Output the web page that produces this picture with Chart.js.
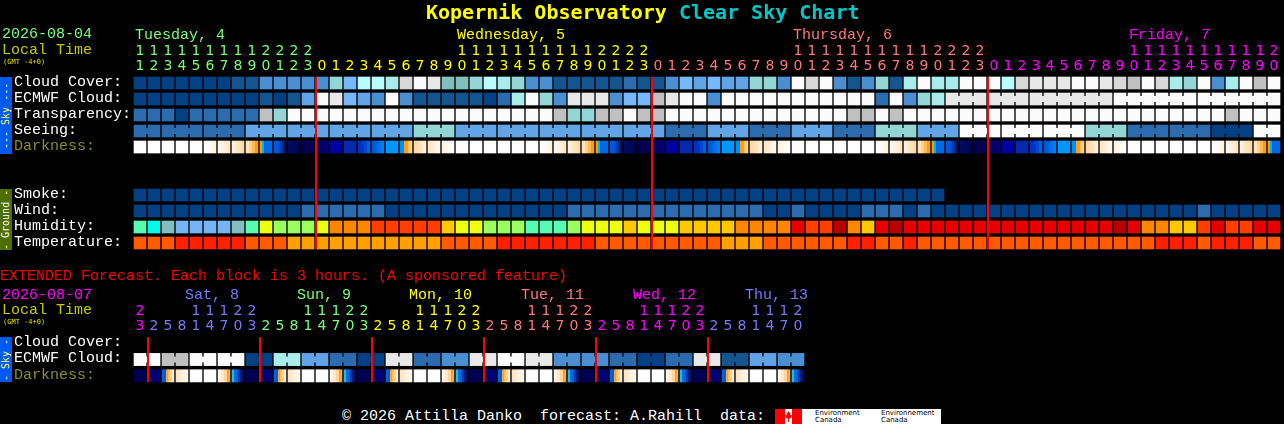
<!DOCTYPE html>
<html>
<head>
<meta charset="utf-8">
<title>Kopernik Observatory Clear Sky Chart</title>
<script src="https://cdn.jsdelivr.net/npm/chart.js@4"></script>
<style>
    html, body { margin: 0; padding: 0; background: #000; width: 1284px; height: 424px; overflow: hidden; }
    canvas { position: absolute; left: 0; }
    #main { top: 0; }
    #extended { top: 280px; }
    .t { position: absolute; white-space: pre; font: 15px/16px "Liberation Mono", monospace; }
    .gmt { font: 7px/8px "DejaVu Sans Mono", monospace; color: #e0e000; left: 3px; }
    .side { position: absolute; left: 0; width: 12px; writing-mode: vertical-rl; transform: rotate(180deg);
            font: 10px/12px "DejaVu Sans Mono", monospace; text-align: center; white-space: pre; }
    #logo { position: absolute; left: 775px; top: 409px; width: 166px; height: 15px; background: #fff; overflow: hidden; }
    #logo i { position: absolute; top: 0; width: 10px; height: 15px; background: #f00; }
    #logo span { position: absolute; font: 7px/7px "DejaVu Sans", sans-serif; color: #000; white-space: pre; }
</style>
</head>
<body>
<canvas id="main" width="1284" height="251"></canvas>
<canvas id="extended" width="808" height="104"></canvas>

<div class="t" style="left:426px;top:0;font:bold 20px/24px 'DejaVu Sans Mono',monospace;color:#ffff00">Kopernik Observatory <span style="color:#00c8c8">Clear Sky Chart</span></div>
<div class="t" style="left:2px;top:27px;color:#78ff78">2026-08-04</div>
<div class="t" style="left:2px;top:43px;color:#c8c800">Local Time</div>
<div class="t gmt" style="top:58px">(GMT -4+0)</div>
<div class="side" style="top:77px;height:77px;background:#005af0;color:#ffff40">--- Sky ---</div>
<div class="side" style="top:189px;height:61px;background:#4e6e00;color:#fff">- Ground -</div>
<div class="t" style="left:0;top:269px;color:#ff0000">EXTENDED Forecast. Each block is 3 hours. (A sponsored feature)</div>
<div class="t" style="left:2px;top:288px;color:#ff00ff">2026-08-07</div>
<div class="t" style="left:2px;top:303px;color:#c8c800">Local Time</div>
<div class="t gmt" style="top:318px">(GMT -4+0)</div>
<div class="side" style="top:337px;height:45px;background:#005af0;color:#ffff40">- Sky -</div>
<div class="t" style="left:342px;top:409px;color:#fff">© 2026 Attilla Danko  forecast: A.Rahill  data:</div>
<div id="logo">
    <i style="left:0"></i><i style="left:17px"></i>
    <svg style="position:absolute;left:10px;top:2px" width="7" height="11" viewBox="0 0 7 11"><path fill="#f00" d="M3.5 0L4.5 2L5.5 1.6L5 4L7 3.4L6.3 5.6L7 6L4 8L4 11L3 11L3 8L0 6L.7 5.6L0 3.4L2 4L1.5 1.6L2.5 2Z"/></svg>
    <span style="left:40px;top:1px">Environment
Canada</span>
    <span style="left:106px;top:1px">Environnement
Canada</span>
</div>

<script>
// hourly forecast columns, first column is Tuesday 11h
const hours = [11, 12, 13, 14, 15, 16, 17, 18, 19, 20, 21, 22, 23,
    0, 1, 2, 3, 4, 5, 6, 7, 8, 9, 10, 11, 12, 13, 14, 15, 16, 17, 18, 19, 20, 21, 22, 23,
    0, 1, 2, 3, 4, 5, 6, 7, 8, 9, 10, 11, 12, 13, 14, 15, 16, 17, 18, 19, 20, 21, 22, 23,
    0, 1, 2, 3, 4, 5, 6, 7, 8, 9, 10, 11, 12, 13, 14, 15, 16, 17, 18, 19, 20];
const dayNames = ['Tuesday, 4', 'Wednesday, 5', 'Thursday, 6', 'Friday, 7'];
const dayLabelCols = [0, 23, 47, 71];
const dayStartCols = [0, 13, 37, 61];
const dayColors = ['#78ff78', '#ffff00', '#ff7878', '#ff00ff'];

const rowNames = ['Cloud Cover:', 'ECMWF Cloud:', 'Transparency:', 'Seeing:', 'Darkness:', '', '',
    'Smoke:', 'Wind:', 'Humidity:', 'Temperature:'];

// sky values are classes 0 (best, dark blue) to 13 (worst, white)
const cloudCover = [0, 0, 0, 0, 0, 0, 0, 1, 1, 3, 3, 3, 3, 3, 7, 5, 9, 9, 8, 11, 13, 12,
    6, 6, 7, 9, 8, 7, 3, 3, 1, 1, 1, 1, 1, 2, 1, 1, 3, 5, 4, 5, 4, 4, 7, 7, 3, 13, 11, 13, 3, 1,
    3, 7, 1, 8, 13, 8, 8, 13, 13, 13, 9, 11, 12, 12, 12, 13, 13, 12, 11, 10, 13, 11, 8, 7, 13, 3, 8, 13, 10, 13];
const ecmwfCloud = [0, 0, 0, 0, 0, 0, 0, 0, 0, 1, 0, 1, 4, 13, 12, 5, 4, 3, 13, 3, 1, 1,
    1, 1, 1, 0, 2, 8, 13, 7, 3, 12, 12, 12, 3, 5, 5, 10, 12, 13, 13, 3, 13, 13, 13, 13, 13, 13, 13, 13, 13, 13,
    13, 2, 13, 3, 7, 8, 12, 12, 12, 12, 12, 12, 12, 12, 12, 12, 12, 12, 13, 13, 13, 13, 13, 13, 13, 13, 13, 13, 13, 13];
const transparency = [2, 2, 2, 0, 2, 2, 2, 2, 2, 10, 7, 13, 13, 13, 13, 13, 13, 13, 13, 13, 13, 13,
    13, 13, 13, 13, 13, 13, 13, 13, 10, 7, 7, 10, 10, 13, 10, 10, 13, 13, 13, 13, 13, 13, 13, 13, 13, 13, 13, 13, 13, 10,
    10, 13, 10, 13, 13, 13, 13, 13, 13, 13, 13, 13, 13, 13, 13, 13, 13, 13, 13, 13, 13, 13, 13, 13, 13, 13, 10, 13, 13, 13];
const seeing = [2, 2, 2, 2, 2, 2, 2, 2, 4, 4, 4, 4, 4, 4, 4, 4, 4, 4, 4, 4, 7, 7, 7,
    4, 4, 4, 4, 4, 4, 4, 4, 4, 4, 4, 4, 4, 4, 4, 2, 2, 2, 4, 4, 4, 2, 2, 2, 4, 4, 4, 2, 2, 2,
    7, 7, 7, 4, 4, 4, 13, 13, 13, 13, 13, 13, 13, 13, 13, 7, 7, 7, 2, 2, 2, 2, 2, 2, 0, 0, 0, 13, 13];
const darkness = ['W', 'W', 'W', 'W', 'W', 'a', 'b', 'c', 'd', 'e', 'f', 'n', 'k', 'm', 'p', 'q', 'r', 's', 't', 'u', 'C', 'B', 'A',
    'W', 'W', 'W', 'W', 'W', 'W', 'a', 'b', 'c', 'd', 'e', 'f', 'n', 'k', 'm', 'p', 'q', 'r', 's', 't', 'u', 'C', 'B', 'A',
    'W', 'W', 'W', 'W', 'W', 'W', 'a', 'b', 'c', 'd', 'e', 'f', 'n', 'k', 'm', 'p', 'q', 'r', 's', 't', 'u', 'C', 'B', 'A',
    'W', 'W', 'W', 'W', 'W', 'W', 'a', 'b', 'c', 'd', 'e'];
const smoke = [0, 0, 0, 0, 0, 0, 0, 0, 0, 0, 0, 0, 0, 0, 0, 0, 0, 0, 0, 0, 0, 0, 0, 0, 0, 0, 0, 0, 0,
    0, 0, 0, 0, 0, 0, 0, 0, 0, 0, 0, 0, 0, 0, 0, 0, 0, 0, 0, 0, 0, 0, 0, 0, 0, 0, 0, 0, 0];
const wind = [0, 0, 0, 0, 0, 0, 0, 0, 0, 0, 0, 0, 2, 2, 2, 2, 2, 2, 0, 0, 0, 0,
    0, 0, 0, 0, 0, 0, 0, 0, 0, 2, 2, 2, 2, 2, 2, 2, 2, 2, 2, 2, 2, 2, 2, 0, 0, 2, 0, 0, 0, 0,
    2, 2, 2, 0, 2, 0, 0, 0, 0, 0, 0, 0, 0, 0, 0, 0, 0, 0, 0, 0, 0, 0, 0, 0, 2, 0, 0, 0, 0, 0];
const humidity = [3, 2, 1, 0, 0, 0, 0, 1, 3, 5, 4, 4, 4, 5, 7, 7, 7, 8, 8, 8, 8, 8,
    6, 5, 5, 4, 4, 4, 3, 3, 3, 4, 5, 5, 5, 6, 5, 5, 5, 6, 6, 6, 6, 7, 7, 7, 7, 9, 8, 8, 10, 7,
    6, 9, 10, 9, 9, 9, 9, 9, 9, 9, 9, 9, 9, 9, 9, 9, 9, 9, 10, 9, 7, 7, 6, 6, 8, 9, 8, 8, 9, 9];
const temperature = [1, 1, 1, 2, 2, 2, 2, 2, 1, 1, 1, 0, 0, 0, 0, 0, 0, 0, 0, 0, 0, 0,
    1, 1, 1, 1, 2, 2, 2, 2, 2, 2, 2, 1, 1, 1, 1, 1, 1, 1, 1, 1, 0, 0, 0, 1, 1, 1, 1, 1, 1, 2,
    2, 1, 1, 2, 1, 1, 1, 1, 1, 1, 1, 1, 1, 1, 1, 1, 1, 1, 1, 1, 1, 2, 2, 2, 1, 2, 2, 2, 1, 1];

// runs of joined blocks, as run lengths from a start column
const seeingRuns = [2, 3, 3, 3, 3, 3, 3, 3, 3, 3, 3, 3, 3, 3, 3, 3, 3, 3, 3, 3, 3, 3, 3, 3, 3, 3, 3, 2];
const ecmwfRunsStart = 58;
const ecmwfRuns = [3, 3, 6, 6, 6];

// extended forecast, one column every 3 hours, first column is Friday 23h
const extHours = [23,
    2, 5, 8, 11, 14, 17, 20, 23, 2, 5, 8, 11, 14, 17, 20, 23, 2, 5, 8, 11, 14, 17, 20, 23,
    2, 5, 8, 11, 14, 17, 20, 23, 2, 5, 8, 11, 14, 17, 20, 23, 2, 5, 8, 11, 14, 17, 20];
const extDayNames = ['Sat, 8', 'Sun, 9', 'Mon, 10', 'Tue, 11', 'Wed, 12', 'Thu, 13'];
const extDayLabelCols = [4, 12, 20, 28, 36, 44];
const extDayStartCols = [0, 1, 9, 17, 25, 33, 41];
const extDayColors = ['#ff00ff', '#7878ff', '#78ff78', '#ffff00', '#ff7878', '#ff00ff', '#7878ff'];
const extRowNames = ['Cloud Cover:', 'ECMWF Cloud:', 'Darkness:'];
const extEcmwfCloud = [13, 13, 10, 10, 13, 13, 13, 13, 0, 0, 8, 8, 4, 4, 2, 2, 0, 0, 12, 12, 2, 2, 3, 3,
    12, 12, 13, 13, 12, 12, 3, 3, 3, 3, 2, 2, 0, 0, 2, 2, 12, 12, 1, 1, 4, 4, 3, 3];
const extDarkness = ['k', 'm', 'v', 'B', 'W', 'W', 'x', 'y', 'k', 'm', 'v', 'B', 'W', 'W', 'x', 'y',
    'k', 'm', 'v', 'B', 'W', 'W', 'x', 'y', 'k', 'm', 'v', 'B', 'W', 'W', 'x', 'y',
    'k', 'm', 'v', 'B', 'W', 'W', 'x', 'y', 'k', 'm', 'v', 'B', 'W', 'W', 'x', 'y'];
const extRuns = [2, 2, 2, 2, 2, 2, 2, 2, 2, 2, 2, 2, 2, 2, 2, 2, 2, 2, 2, 2, 2, 2, 2, 2];

const skyColors = ['#044184', '#14548f', '#2c6cae', '#4c8ed2', '#62a4e6', '#78b8fa', '#82c0be', '#94d6d6',
    '#a8ecec', '#b8fcfc', '#c0c0c0', '#d8d8d8', '#e8e8e8', '#fbfbfb'];
const humidityColors = ['#78b4f4', '#84bfbf', '#00fbea', '#58fcb0', '#9cff60', '#eeff10', '#ffc800',
    '#ff8600', '#ff3e00', '#e60000', '#b80000'];
const temperatureColors = ['#ffa000', '#ff5a00', '#ff2000'];
// left to right colour bands inside one darkness block
const darkColors = {
    W: ['#ffffff'],
    a: ['#ffffff', '#fffcf6', '#fff8ee', '#fff4e4'],
    b: ['#fff8ee', '#fff2e0', '#ffecd2', '#ffe6c6'],
    c: ['#fff0dc', '#ffe8c8', '#ffe0b8', '#ffd8a8'],
    d: ['#ffe4c0', '#ffd08c', '#ffb850', '#ff9c10'],
    e: ['#ff9c00', '#00b4f0', '#0068e0', '#0068e0', '#0068e0', '#0068e0'],
    f: ['#0058e0', '#0058e0', '#0050d0', '#003cb0', '#002890', '#001060'],
    n: ['#000868', '#000860', '#000858', '#000050'],
    k: ['#000050'],
    m: ['#000060', '#000068', '#000070', '#000080'],
    p: ['#0000a0'],
    q: ['#0828b0'],
    r: ['#0030c0', '#0038c8', '#0048d0', '#0060e0'],
    s: ['#0058d8', '#0060e0', '#0070e8', '#0080f0'],
    t: ['#0098ff'],
    u: ['#0090f0', '#0090f0', '#ffa020', '#ffa020', '#ffc060', '#ffd090'],
    C: ['#ffd8a8', '#ffe0b8', '#ffe8c8', '#fff0dc'],
    B: ['#ffe6c6', '#ffecd2', '#fff2e0', '#fff8ee'],
    A: ['#fff4e4', '#fff8ee', '#fffcf6', '#ffffff'],
    v: ['#0060e0', '#0060e0', '#ffa030', '#ffc060', '#ffd8a0', '#ffe8c8'],
    x: ['#fff4e4', '#ffe8c8', '#ffd8a0', '#ffa030'],
    y: ['#00c8e8', '#0070e0', '#0060e0', '#0040b0', '#002080', '#000860']
};

const CELL_HALF = 0.375;

function rowBars(values, row, colors) {
    return {
        data: values.map(v => [row - CELL_HALF, row + CELL_HALF]),
        backgroundColor: values.map(v => colors[v])
    };
}

function darkBars(values, row) {
    return {
        data: values.map(v => [row - CELL_HALF, row + CELL_HALF]),
        backgroundColor: context => {
            const bands = darkColors[values[context.dataIndex]];
            if (bands.length === 1) return bands[0];
            // hard stops, so that the bands stay visible
            const center = context.chart.scales.x.getPixelForValue(context.dataIndex);
            const gradient = context.chart.ctx.createLinearGradient(center - 6, 0, center + 6, 0);
            bands.forEach((color, i) => {
                gradient.addColorStop(i / bands.length, color);
                gradient.addColorStop((i + 1) / bands.length, color);
            });
            return gradient;
        }
    };
}

function runsToLinks(row, runs, start, colors, values) {
    const links = [];
    let col = start;
    runs.forEach(length => {
        for (let i = col; i < col + length - 1; i++) {
            links.push({ row: row, col: i, color: colors[values[i]] });
        }
        col += length;
    });
    return links;
}

function colorForCol(col, startCols, colors) {
    let index = 0;
    startCols.forEach((start, i) => {
        if (col >= start) index = i;
    });
    return colors[index];
}

// day names, joined blocks and the red midnight lines
const panelDecor = {
    id: 'panelDecor',
    afterDatasetsDraw(chart, args, opts) {
        const ctx = chart.ctx;
        const x = chart.scales.x;
        const y = chart.scales.y;
        opts.links.forEach(link => {
            ctx.fillStyle = link.color;
            ctx.fillRect(x.getPixelForValue(link.col) + 6, y.getPixelForValue(link.row) - 3, 2, 6);
        });
        ctx.fillStyle = '#ff0000';
        opts.midnights.forEach(col => {
            const top = y.getPixelForValue(opts.lineFrom) - 6;
            const bottom = y.getPixelForValue(y.max - 0.5) + 6;
            ctx.fillRect(x.getPixelForValue(col) - 7, top, 2, bottom - top);
        });
        ctx.font = '15px "Liberation Mono", monospace';
        ctx.textAlign = 'left';
        ctx.textBaseline = 'middle';
        opts.dayNames.forEach((name, i) => {
            ctx.fillStyle = opts.dayNameColors[i];
            ctx.fillText(name, x.getPixelForValue(opts.dayCols[i]) - 6 + opts.dayOffset, chart.chartArea.top - 40);
        });
    }
};

function createPanel(id, cfg) {
    return new Chart(document.getElementById(id), {
        type: 'bar',
        data: { labels: cfg.hours, datasets: cfg.datasets },
        options: {
            responsive: false,
            animation: false,
            devicePixelRatio: 1,
            layout: { autoPadding: false, padding: { left: 14, right: 3, top: 0, bottom: 0 } },
            datasets: { bar: { grouped: false, barThickness: 12, borderWidth: 0 } },
            scales: {
                x: {
                    position: 'top',
                    grid: { display: false, drawTicks: false },
                    border: { display: false },
                    afterFit: scale => {
                        scale.height = cfg.axisHeight;
                        scale.paddingLeft = 0;
                        scale.paddingRight = 0;
                    },
                    ticks: {
                        autoSkip: false,
                        maxRotation: 0,
                        minRotation: 0,
                        padding: 1,
                        font: { family: '"DejaVu Sans", sans-serif', size: 14, lineHeight: '15px' },
                        color: context => colorForCol(context.index, cfg.dayStartCols, cfg.dayColors),
                        callback: value => {
                            const hour = cfg.hours[value];
                            return [hour >= 10 ? String(Math.floor(hour / 10)) : '', String(hour % 10)];
                        }
                    }
                },
                y: {
                    reverse: true,
                    min: -0.5,
                    max: cfg.rowNames.length - 0.5,
                    grid: { display: false, drawTicks: false },
                    border: { display: false },
                    afterFit: scale => {
                        scale.width = 119;
                        // the last label must not eat into the plot height
                        scale.paddingTop = 0;
                        scale.paddingBottom = 0;
                    },
                    afterBuildTicks: scale => {
                        scale.ticks = cfg.rowNames.map((name, i) => ({ value: i }));
                    },
                    ticks: {
                        crossAlign: 'far',
                        autoSkip: false,
                        labelOffset: -1,
                        font: { family: '"Liberation Mono", monospace', size: 15 },
                        color: context => cfg.rowNames[context.index] === 'Darkness:' ? '#8c8c28' : '#ffffff',
                        callback: value => cfg.rowNames[value]
                    }
                }
            },
            plugins: {
                legend: { display: false },
                tooltip: { enabled: false },
                panelDecor: {
                    links: cfg.links,
                    midnights: cfg.midnights,
                    lineFrom: 0,
                    dayNames: cfg.dayNames,
                    dayCols: cfg.dayCols,
                    dayNameColors: cfg.dayNameColors,
                    dayOffset: cfg.dayOffset
                }
            }
        },
        plugins: [panelDecor]
    });
}

createPanel('main', {
    hours: hours,
    rowNames: rowNames,
    axisHeight: 75,
    dayStartCols: dayStartCols,
    dayColors: dayColors,
    datasets: [
        rowBars(cloudCover, 0, skyColors),
        rowBars(ecmwfCloud, 1, skyColors),
        rowBars(transparency, 2, skyColors),
        rowBars(seeing, 3, skyColors),
        darkBars(darkness, 4),
        rowBars(smoke, 7, skyColors),
        rowBars(wind, 8, skyColors),
        rowBars(humidity, 9, humidityColors),
        rowBars(temperature, 10, temperatureColors)
    ],
    links: runsToLinks(3, seeingRuns, 0, skyColors, seeing)
        .concat(runsToLinks(1, ecmwfRuns, ecmwfRunsStart, skyColors, ecmwfCloud)),
    midnights: [13, 37, 61],
    dayNames: dayNames,
    dayCols: dayLabelCols,
    dayNameColors: dayColors,
    dayOffset: 1
});

createPanel('extended', {
    hours: extHours,
    rowNames: extRowNames,
    axisHeight: 55,
    dayStartCols: extDayStartCols,
    dayColors: extDayColors,
    datasets: [
        rowBars(extEcmwfCloud, 1, skyColors),
        darkBars(extDarkness, 2)
    ],
    links: runsToLinks(1, extRuns, 0, skyColors, extEcmwfCloud),
    midnights: [1, 9, 17, 25, 33, 41],
    dayNames: extDayNames,
    dayCols: extDayLabelCols,
    dayNameColors: extDayColors.slice(1),
    dayOffset: -5
});
</script>
</body>
</html>
